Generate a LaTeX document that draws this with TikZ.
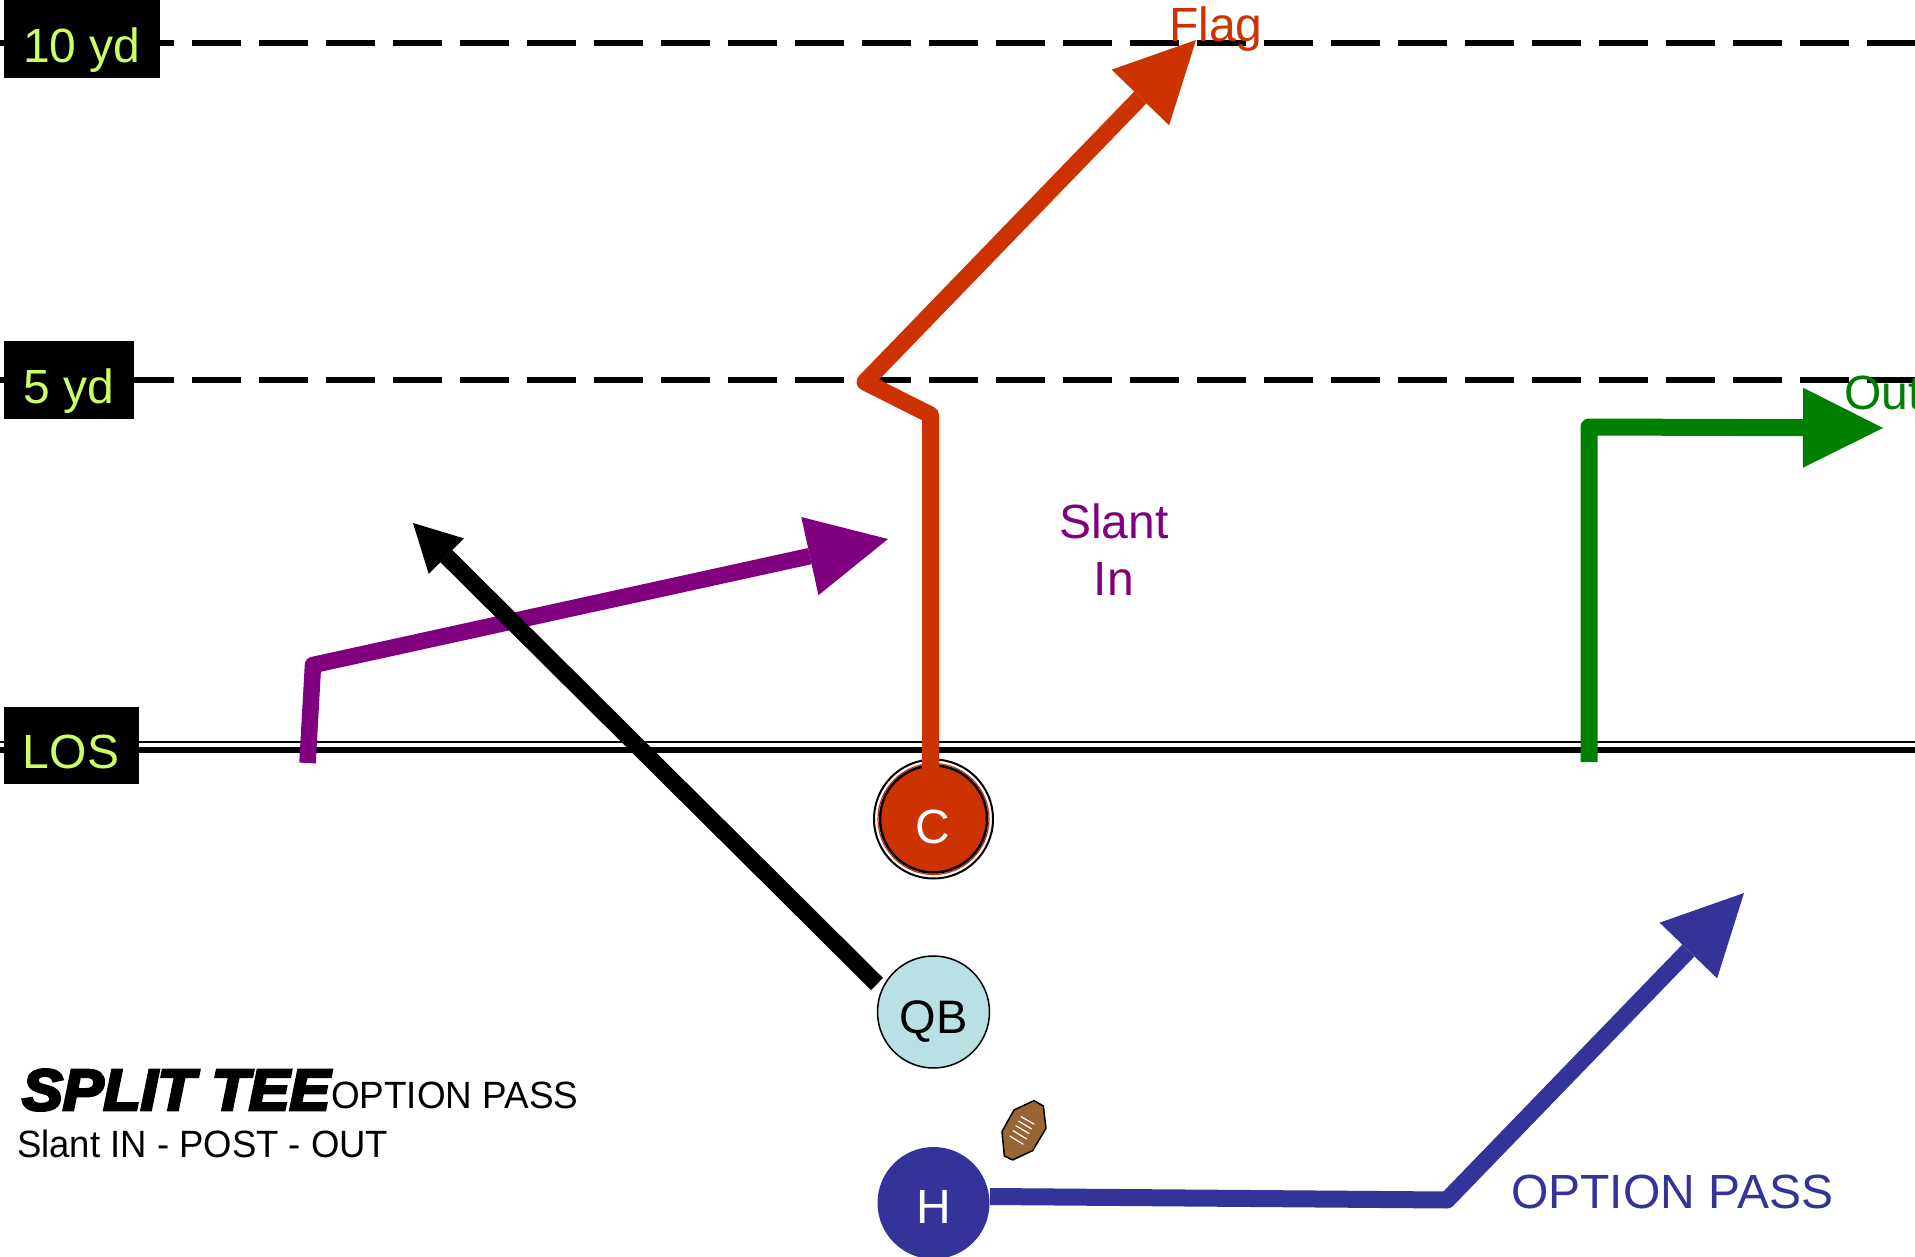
\documentclass[tikz,border=0pt]{standalone}
\usepackage{fontspec}
\setmainfont{Liberation Sans}
\newfontfamily\heavyfont[RawFeature={embolden=5}]{Liberation Sans Bold Italic}
\usetikzlibrary{arrows.meta}
\definecolor{lime}{HTML}{CCFF66}
\definecolor{redc}{HTML}{CC3300}
\definecolor{greenc}{HTML}{008000}
\definecolor{purplec}{HTML}{800080}
\definecolor{bluec}{HTML}{333399}
\definecolor{qbc}{HTML}{B9E0E3}
\definecolor{ballc}{HTML}{996633}
\newcommand{\fs}[1]{\fontsize{#1}{#1}\selectfont}
\tikzset{
  x=1pt,y=-1pt,
  yardline/.style={line width=6.5pt,dash pattern=on 49pt off 18pt},
  route/.style={line width=#1,line join=round,line cap=butt},
  route/.default=17pt,
  bighead/.style={-{Triangle[length=80pt,width=80pt,line width=0pt]}},
  label/.style={inner sep=0pt,anchor=base west,font=\fs{48}},
  player/.style={circle,minimum size=112pt,inner sep=0pt,font=\fs{48}},
  yardtext/.style={text=lime,inner sep=0pt,font=\fs{48}},
}
\begin{document}
\begin{tikzpicture}
\useasboundingbox (0,0) rectangle (1915,1257);
\fill[white] (0,0) rectangle (1915,1257);

% yard lines
\coordinate (tenL) at (-9,43); \coordinate (tenR) at (1915,43);
\coordinate (fiveL) at (-9,380); \coordinate (fiveR) at (1915,380);
\coordinate (losL) at (0,742); \coordinate (losR) at (1915,742);
\coordinate (losLb) at (0,750); \coordinate (losRb) at (1915,750);
\draw[yardline] (tenL) -- (tenR);
\draw[yardline] (fiveL) -- (fiveR);
\draw[line width=2pt] (losL) -- (losR);
\draw[line width=6.5pt] (losLb) -- (losRb);

% yard boxes
\fill[black] (4,0) rectangle (160,78);
\node[yardtext] (ten) at (82,50) {10 yd};
\fill[black] (4,341) rectangle (134,419);
\node[yardtext] (five) at (69,391) {5 yd};
\fill[black] (4,707) rectangle (139,784);
\node[yardtext] (los) at (71,752) {LOS};

% players
\node[circle,draw=black,line width=2pt,fill=white,minimum size=119pt,inner sep=0pt] (Cring) at (933.5,819) {};
\node[circle,draw=redc,line width=1.2pt,minimum size=111pt,inner sep=0pt] (Cthin) at (933.5,819) {};
\node[player,fill=redc,draw=black,line width=2.5pt,minimum size=107pt,text=white] (C) at (933.5,819) {};
\node[text=white,inner sep=0pt,font=\fs{48}] (Ctext) at (933,827) {C};
\node[player,fill=qbc,draw=black,line width=1.5pt] (QB) at (933.5,1012) {};
\node[inner sep=0pt,font=\fs{47}] (QBtext) at (933.5,1022) {QB};
\node[player,fill=bluec] (H) at (933.5,1203) {};
\node[text=white,inner sep=0pt,font=\fs{48}] (Htext) at (933.5,1207) {H};

% routes
\coordinate (cA) at (930.5,768); \coordinate (cB) at (930.5,415); \coordinate (cC) at (865,382); \coordinate (cD) at (1196,40);
\draw[route,redc,bighead] (cA) -- (cB) -- (cC) -- (cD);

\coordinate (gA) at (1589,762); \coordinate (gB) at (1589,427); \coordinate (gC) at (1883,428);
\draw[route,greenc,bighead] (gA) -- (gB) -- (gC);

\coordinate (pA) at (307.5,763); \coordinate (pB) at (313,665); \coordinate (pC) at (888,539);
\draw[route=16.5pt,purplec,bighead] (pA) -- (pB) -- (pC);

\coordinate (bA) at (877,984); \coordinate (bB) at (413,523);
\draw[route,black,-{Triangle[length=47pt,width=50pt,line width=0pt]}] (bA) -- (bB);

\coordinate (hA) at (990,1196.5); \coordinate (hB) at (1447,1200); \coordinate (hC) at (1744,893);
\draw[route,bluec,bighead] (hA) -- (hB) -- (hC);

% labels
\node[label,text=redc] (flag) at (1169,42) {Flag};
\node[label,text=greenc] (out) at (1844,409) {Out};
\node[label,text=purplec,anchor=base] (slant) at (1114,538) {Slant};
\node[label,text=purplec,anchor=base] (in) at (1114,595) {In};
\node[label,text=bluec] (opt) at (1511,1208) {OPTION PASS};

% title
\node[inner sep=0pt,anchor=base west,font=\fs{58}\heavyfont,transform shape,xscale=1.05] (title) at (22,1110) {SPLIT TEE};
\node[inner sep=0pt,anchor=base west,font=\fs{38},transform shape,xscale=.97] (sub) at (331,1108) {OPTION PASS};
\node[inner sep=0pt,anchor=base west,font=\fs{38},transform shape,xscale=.96] (plays) at (17,1157) {Slant IN - POST - OUT};

% football
\begin{scope}[shift={(850,740)},x=0.3333pt,y=-0.3333pt]
\filldraw[fill=ballc,draw=black,line width=1.5pt,line join=round]
  (552,1082)--(580,1098)--(588,1165)--(548,1232)--(488,1260)--(463,1248)--(456,1175)--(492,1110)--cycle;
\draw[white,line width=1.2pt]
  (513,1130)--(553,1153) (505,1143)--(545,1167) (497,1157)--(538,1181) (489,1172)--(530,1197) (479,1188)--(520,1213);
\end{scope}
\end{tikzpicture}
\end{document}
